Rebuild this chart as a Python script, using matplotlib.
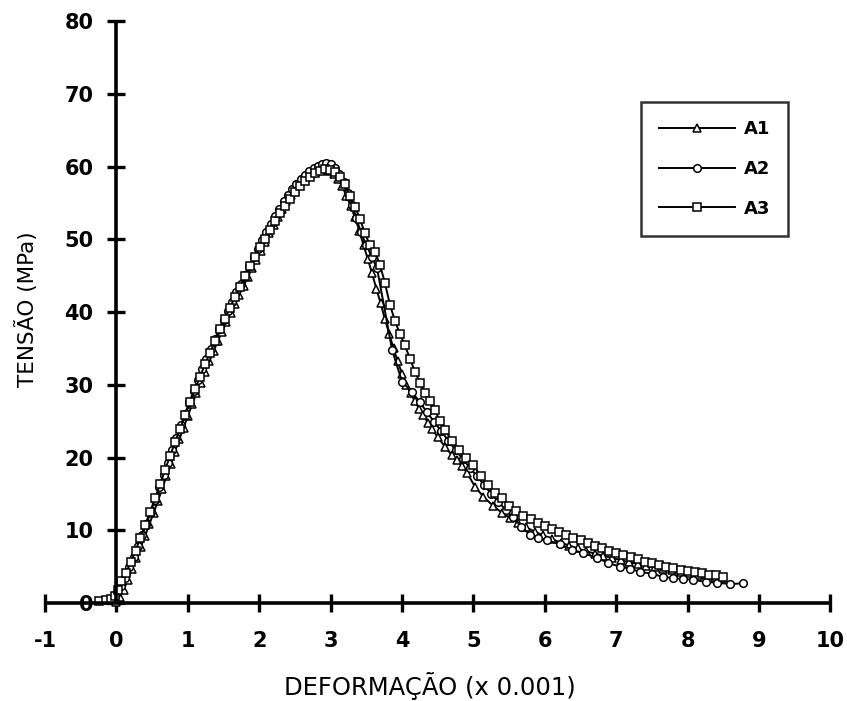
import numpy as np
import matplotlib
matplotlib.use("Agg")
import matplotlib.pyplot as plt

plt.rcParams["axes.unicode_minus"] = False

# ---- data (strain x 0.001, stress MPa) ----
a1_x = [0.0, 0.05, 0.1, 0.16, 0.22, 0.28, 0.34, 0.4, 0.46, 0.52, 0.58, 0.64, 0.7, 0.76,
        0.82, 0.88, 0.94, 1.0, 1.06, 1.12, 1.18, 1.24, 1.3, 1.36, 1.42, 1.48, 1.54, 1.6,
        1.66, 1.72, 1.78, 1.84, 1.9, 1.96, 2.02, 2.08, 2.14, 2.2, 2.26, 2.32, 2.38, 2.44,
        2.5, 2.56, 2.62, 2.68, 2.74, 2.8, 2.86, 2.92, 2.98, 3.04, 3.1, 3.16, 3.22, 3.28,
        3.34, 3.4, 3.46, 3.52, 3.58, 3.64, 3.7, 3.76, 3.82, 3.88, 3.94, 4.0, 4.06, 4.12,
        4.18, 4.24, 4.3, 4.36, 4.42, 4.5, 4.6, 4.7, 4.77, 4.84, 4.91, 5.02, 5.14, 5.27,
        5.4, 5.51, 5.62, 5.74, 5.86, 5.98, 6.1, 6.22, 6.34, 6.46, 6.58, 6.7, 6.82, 6.94,
        7.06, 7.18, 7.3, 7.42, 7.54, 7.66, 7.78, 7.9, 8.02, 8.14, 8.26, 8.38, 8.5]
a1_y = [0.2, 0.8, 1.8, 3.2, 4.7, 6.2, 7.7, 9.2, 10.8, 12.4, 14.0, 15.7, 17.4, 19.1,
        20.8, 22.5, 24.1, 25.7, 27.3, 28.8, 30.3, 31.8, 33.2, 34.6, 36.0, 37.3, 38.6, 39.9,
        41.1, 42.4, 43.6, 44.8, 46.0, 47.2, 48.4, 49.6, 50.8, 52.0, 53.1, 54.2, 55.2, 56.1,
        56.9, 57.6, 58.2, 58.7, 59.1, 59.4, 59.6, 59.6, 59.4, 59.0, 58.3, 57.3, 56.0, 54.6,
        53.0, 51.2, 49.2, 47.3, 45.3, 43.2, 41.2, 39.0, 37.0, 35.0, 33.2, 31.5, 30.0, 28.8,
        27.7, 26.7, 25.8, 24.8, 23.9, 22.8, 21.5, 20.3, 19.7, 18.8, 17.9, 16.0, 14.6, 13.4,
        12.4, 11.7, 11.0, 10.4, 9.8, 9.3, 8.8, 8.3, 7.9, 7.5, 7.1, 6.8, 6.5, 6.2,
        5.9, 5.6, 5.4, 5.1, 4.9, 4.7, 4.5, 4.3, 4.1, 3.9, 3.8, 3.6, 3.5]

a2_x = [-0.1, 0.0, 0.06, 0.12, 0.18, 0.24, 0.3, 0.36, 0.42, 0.48, 0.54, 0.6, 0.66, 0.72,
        0.78, 0.84, 0.9, 0.96, 1.02, 1.08, 1.14, 1.2, 1.26, 1.32, 1.38, 1.44, 1.5, 1.56,
        1.62, 1.68, 1.74, 1.8, 1.86, 1.92, 1.98, 2.04, 2.1, 2.16, 2.22, 2.28, 2.34, 2.4,
        2.46, 2.52, 2.58, 2.64, 2.7, 2.76, 2.82, 2.88, 2.94, 3.0, 3.06, 3.12, 3.18, 3.24,
        3.3, 3.36, 3.42, 3.5, 3.58, 3.65, 3.86, 4.0, 4.14, 4.25, 4.35, 4.45, 4.55, 4.65,
        4.75, 4.85, 4.95, 5.05, 5.15, 5.25, 5.35, 5.45, 5.55, 5.67, 5.79, 5.91, 6.03, 6.21,
        6.38, 6.53, 6.73, 6.89, 7.05, 7.19, 7.33, 7.5, 7.66, 7.8, 7.94, 8.08, 8.25, 8.41,
        8.59, 8.77]
a2_y = [0.6, 1.2, 2.3, 3.5, 4.9, 6.3, 7.8, 9.3, 10.9, 12.5, 14.2, 15.9, 17.6, 19.3,
        21.0, 22.7, 24.4, 26.0, 27.6, 29.1, 30.6, 32.1, 33.5, 34.9, 36.3, 37.6, 38.9, 40.2,
        41.4, 42.7, 43.9, 45.1, 46.3, 47.5, 48.7, 49.9, 51.0, 52.1, 53.2, 54.2, 55.2, 56.1,
        56.9, 57.6, 58.3, 58.9, 59.4, 59.8, 60.1, 60.4, 60.5, 60.3, 59.8, 59.0, 57.9, 56.4,
        54.7, 52.9, 51.0, 49.2, 47.5, 46.0, 34.8, 30.4, 29.0, 27.6, 26.2, 24.9, 23.6, 22.3,
        21.0, 19.8, 18.6, 17.4, 16.2, 15.0, 13.9, 12.8, 11.8, 10.5, 9.4, 8.9, 8.6, 8.1,
        7.3, 6.9, 6.2, 5.5, 5.0, 4.7, 4.3, 4.0, 3.6, 3.4, 3.3, 3.2, 2.9, 2.8,
        2.6, 2.7]

a3_x = [-0.25, -0.15, -0.08, -0.02, 0.02, 0.07, 0.13, 0.2, 0.27, 0.33, 0.4, 0.47, 0.54,
        0.61, 0.68, 0.75, 0.82, 0.89, 0.96, 1.03, 1.1, 1.17, 1.24, 1.31, 1.38, 1.45, 1.52,
        1.59, 1.66, 1.73, 1.8, 1.87, 1.94, 2.01, 2.08, 2.15, 2.22, 2.29, 2.36, 2.43, 2.5,
        2.57, 2.64, 2.71, 2.78, 2.85, 2.92, 2.99, 3.06, 3.13, 3.2, 3.27, 3.34, 3.41, 3.48,
        3.55, 3.62, 3.69, 3.76, 3.83, 3.9, 3.97, 4.04, 4.11, 4.18, 4.25, 4.32, 4.39, 4.46,
        4.53, 4.6, 4.7, 4.8, 4.9, 5.0, 5.1, 5.2, 5.3, 5.4, 5.5, 5.6, 5.7, 5.8, 5.9, 6.0,
        6.1, 6.2, 6.3, 6.4, 6.5, 6.6, 6.7, 6.8, 6.9, 7.0, 7.1, 7.2, 7.3, 7.4, 7.5, 7.6,
        7.7, 7.8, 7.9, 8.0, 8.1, 8.2, 8.3, 8.4, 8.5]
a3_y = [0.3, 0.4, 0.6, 1.0, 1.8, 3.0, 4.1, 5.6, 7.2, 8.9, 10.7, 12.5, 14.4,
        16.3, 18.3, 20.2, 22.1, 23.9, 25.8, 27.6, 29.4, 31.1, 32.8, 34.4, 36.0, 37.6, 39.1,
        40.6, 42.1, 43.5, 44.9, 46.3, 47.6, 48.9, 50.1, 51.3, 52.5, 53.6, 54.6, 55.6, 56.5,
        57.3, 58.0, 58.6, 59.1, 59.4, 59.6, 59.5, 59.2, 58.6, 57.6, 56.0, 54.5, 52.8, 50.8,
        49.2, 48.3, 46.5, 44.0, 41.0, 38.8, 37.0, 35.4, 33.6, 31.8, 30.3, 28.9, 27.7, 26.5,
        25.0, 23.8, 22.3, 21.0, 20.0, 19.0, 17.4, 16.2, 15.1, 14.4, 13.4, 12.6, 12.0, 11.5,
        11.0, 10.6, 10.2, 9.8, 9.4, 9.0, 8.6, 8.2, 7.8, 7.5, 7.2, 6.9, 6.6, 6.3, 6.0, 5.7,
        5.5, 5.2, 5.0, 4.8, 4.6, 4.4, 4.2, 4.1, 3.9, 3.8, 3.6]

series = [("A1", a1_x, a1_y, "^"), ("A2", a2_x, a2_y, "o"), ("A3", a3_x, a3_y, "s")]

x_ticks = list(range(-1, 11))
y_ticks = list(range(0, 81, 10))

fig = plt.figure(figsize=(8.47, 7.01), dpi=100)
ax = fig.add_axes([0.0532, 0.1398, 0.9273, 0.8302])

for name, xs, ys, mk in series:
    ax.plot(xs, ys, color="black", lw=1.4, marker=mk, ms=5.5, mfc="white",
            mec="black", mew=1.1, label=name, clip_on=False)

ax.set_xlim(-1, 10)
ax.set_ylim(0, 80)
ax.spines["left"].set_position(("data", 0))
ax.spines["bottom"].set_position(("data", 0))
ax.spines["top"].set_visible(False)
ax.spines["right"].set_visible(False)
for s in ("left", "bottom"):
    ax.spines[s].set_linewidth(2.6)
    ax.spines[s].set_capstyle("butt")

ax.set_xticks(x_ticks)
ax.set_yticks(y_ticks)
ax.tick_params(axis="both", direction="inout", length=13, width=2.4,
               labelsize=15)
ax.tick_params(axis="x", pad=14)
ax.tick_params(axis="y", pad=10)
for lab in ax.get_xticklabels() + ax.get_yticklabels():
    lab.set_fontweight("bold")

ax.set_ylabel("TENSÃO (MPa)", fontsize=15.5, va="center")
ax.yaxis.set_label_coords(-0.024, 0.505)
ax.set_xlabel("DEFORMAÇÃO (x 0.001)", fontsize=17.5, va="center")
ax.xaxis.set_label_coords(0.49, -0.142)

leg = ax.legend(loc="upper left", bbox_to_anchor=(0.747, 0.876), frameon=True,
                fancybox=False, edgecolor="black", handlelength=4.2,
                labelspacing=1.2, borderpad=1.0, handletextpad=0.5,
                prop={"weight": "bold", "size": 13})
leg.get_frame().set_linewidth(1.8)

fig.savefig("out.png", dpi=100)
